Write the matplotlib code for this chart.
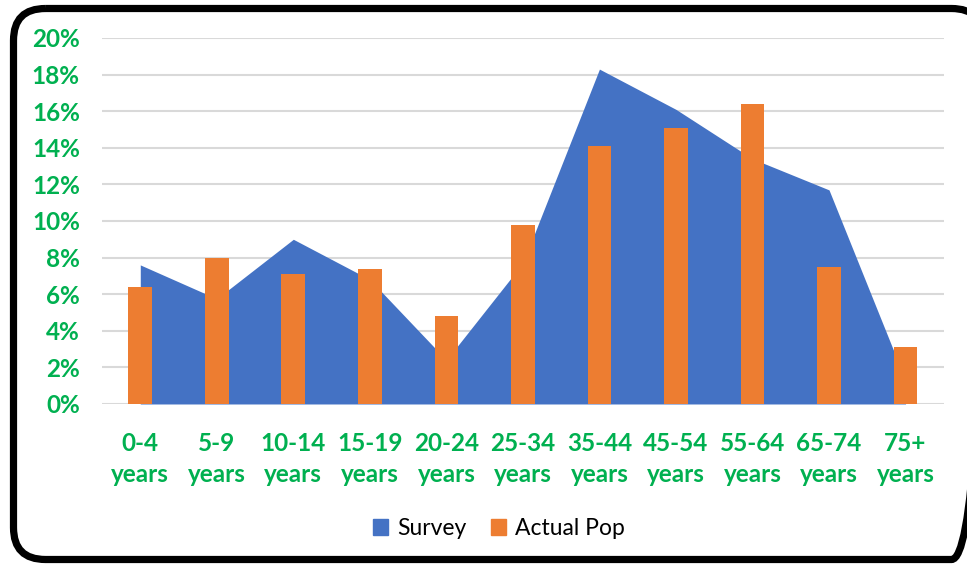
import matplotlib
matplotlib.use('Agg')
import matplotlib.pyplot as plt
from matplotlib.patches import FancyBboxPatch, Patch
from matplotlib.ticker import FuncFormatter

# age groups and shares (%)
categories = ['0-4\nyears', '5-9\nyears', '10-14\nyears', '15-19\nyears', '20-24\nyears',
              '25-34\nyears', '35-44\nyears', '45-54\nyears', '55-64\nyears', '65-74\nyears',
              '75+\nyears']
survey = [7.6, 5.75, 9.0, 6.8, 2.4, 7.7, 18.3, 16.1, 13.4, 11.7, 1.3]
actual_pop = [6.4, 8.0, 7.1, 7.4, 4.8, 9.8, 14.1, 15.1, 16.4, 7.5, 3.1]

green = '#00B050'
blue = '#4472C4'
orange = '#ED7D31'

fig = plt.figure(figsize=(9.67, 5.67), dpi=100)
ax = fig.add_axes([0.1055, 0.2875, 0.8705, 0.6455])

x = list(range(len(categories)))
ax.fill_between(x, survey, 0, color=blue, linewidth=0, zorder=2)
ax.bar(x, actual_pop, width=0.31, color=orange, zorder=3)

ax.set_xlim(-0.5, len(categories) - 0.5)
ax.set_ylim(0, 20)
ax.set_yticks(range(0, 21, 2))
ax.yaxis.set_major_formatter(FuncFormatter(lambda v, p: f'{v:.0f}%'))
ax.grid(axis='y', color='#D9D9D9', linewidth=1.5, zorder=0)
ax.set_axisbelow(True)
for s in ax.spines.values():
    s.set_visible(False)
ax.tick_params(length=0)
ax.tick_params(axis='y', pad=16)
ax.tick_params(axis='x', pad=20)
ax.set_xticks(x)
ax.set_xticklabels(categories, linespacing=1.45)
for lbl in ax.get_xticklabels() + ax.get_yticklabels():
    lbl.set_color(green)
    lbl.set_fontweight('bold')
    lbl.set_fontfamily('Lato')
    lbl.set_fontsize(17.5)

handles = [Patch(color=blue, label='Survey'), Patch(color=orange, label='Actual Pop')]
fig.legend(handles=handles, loc='center', bbox_to_anchor=(0.516, 0.068), ncol=2, frameon=False,
           prop={'family': 'Lato', 'size': 16.5}, handlelength=0.65, handleheight=0.65,
           handletextpad=0.4, columnspacing=1.1)

# rounded black frame around the chart, drawn in pixel units
over = fig.add_axes([0, 0, 1, 1], zorder=10)
over.set_xlim(0, 967)
over.set_ylim(567, 0)
over.axis('off')
over.patch.set_alpha(0)
over.add_patch(FancyBboxPatch((13.5, 8.5), 970, 551, boxstyle='round,pad=0,rounding_size=32',
                              fill=False, edgecolor='black', linewidth=5.2))

fig.savefig('out.png', dpi=100)
